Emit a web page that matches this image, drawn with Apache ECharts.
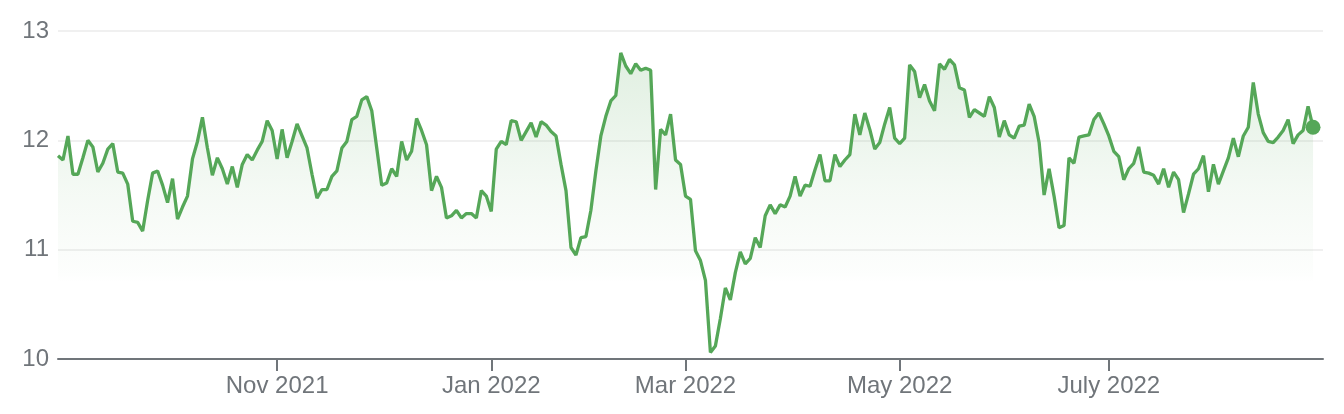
<!DOCTYPE html>
<html><head><meta charset="utf-8">
<script src="https://cdn.jsdelivr.net/npm/echarts@6/dist/echarts.min.js"></script>
<style>html,body{margin:0;padding:0;background:#fff}#c{width:1344px;height:414px}</style>
</head><body><div id="c"></div>
<script>
// Daily closing values, one per US trading day
const startDate = '2021-08-30';
const endDate = '2022-08-30';
const holidays = ['2021-09-06','2021-11-25','2021-12-24','2022-01-17','2022-02-21','2022-04-15','2022-05-30','2022-06-20','2022-07-04'];
const values = [
11.86,11.82,12.04,11.69,11.69,11.84,12.00,11.94,11.71,11.79,
11.92,11.97,11.71,11.70,11.60,11.26,11.25,11.17,11.45,11.70,
11.72,11.59,11.43,11.65,11.28,11.39,11.49,11.83,11.99,12.21,
11.93,11.68,11.84,11.74,11.60,11.76,11.57,11.78,11.87,11.82,
11.91,11.99,12.18,12.09,11.83,12.10,11.84,11.99,12.15,12.04,
11.93,11.69,11.47,11.55,11.55,11.67,11.72,11.93,11.99,12.19,
12.22,12.37,12.40,12.27,11.93,11.59,11.61,11.74,11.67,11.99,
11.82,11.90,12.20,12.09,11.96,11.54,11.67,11.57,11.29,11.31,
11.36,11.29,11.33,11.33,11.29,11.54,11.49,11.35,11.92,11.99,
11.96,12.18,12.17,12.00,12.08,12.16,12.03,12.17,12.14,12.08,
12.04,11.78,11.54,11.02,10.95,11.11,11.12,11.36,11.72,12.04,
12.22,12.36,12.41,12.80,12.68,12.61,12.70,12.64,12.66,12.64,
11.55,12.10,12.05,12.24,11.82,11.78,11.49,11.46,10.99,10.90,
10.72,10.06,10.12,10.37,10.65,10.54,10.79,10.98,10.87,10.92,
11.11,11.02,11.31,11.41,11.33,11.41,11.39,11.49,11.67,11.49,
11.59,11.58,11.73,11.87,11.63,11.63,11.87,11.76,11.82,11.87,
12.24,12.05,12.25,12.10,11.92,11.98,12.15,12.30,12.02,11.97,
12.02,12.69,12.63,12.39,12.51,12.36,12.27,12.70,12.65,12.74,
12.69,12.48,12.46,12.21,12.28,12.25,12.22,12.40,12.30,12.03,
12.18,12.05,12.02,12.13,12.14,12.33,12.22,11.98,11.50,11.74,
11.49,11.20,11.22,11.84,11.79,12.03,12.04,12.05,12.19,12.25,
12.15,12.04,11.90,11.85,11.64,11.74,11.79,11.94,11.71,11.70,
11.68,11.60,11.74,11.57,11.71,11.64,11.34,11.51,11.69,11.74,
11.86,11.53,11.78,11.60,11.72,11.84,12.02,11.85,12.04,12.12,
12.53,12.24,12.07,11.99,11.98,12.03,12.09,12.19,11.97,12.05,
12.09,12.31,12.12
];
const tickMonths = ['2021-11','2022-01','2022-03','2022-05','2022-07'];
const tickLabels = ['Nov 2021','Jan 2022','Mar 2022','May 2022','July 2022'];
const yMin = 10, yMax = 13, yStep = 1;

function tradingDays(){
  const out = [];
  const d = new Date(startDate + 'T00:00:00Z');
  const end = new Date(endDate + 'T00:00:00Z');
  while (d <= end) {
    const s = d.toISOString().slice(0,10);
    const wd = d.getUTCDay();
    if (wd !== 0 && wd !== 6 && holidays.indexOf(s) < 0) out.push(s);
    d.setUTCDate(d.getUTCDate() + 1);
  }
  return out;
}
const dates = tradingDays();
const labelAt = {};
tickMonths.forEach((m, k) => {
  const idx = dates.findIndex(d => d.startsWith(m));
  if (idx >= 0) labelAt[idx] = tickLabels[k];
});
const last = values.length - 1;
const green = '#55a758';
const grey = '#70757a';
const font = 'Liberation Sans, Arial, Helvetica, sans-serif';

const chart = echarts.init(document.getElementById('c'), null, {renderer: 'canvas'});
chart.setOption({
  animation: false,
  backgroundColor: '#fff',
  grid: {left: 58, right: 21, top: 31, bottom: 55, containLabel: false},
  xAxis: {
    type: 'category', data: dates, boundaryGap: false, max: dates.length + 1,
    axisLine: {lineStyle: {color: grey, width: 2}},
    axisTick: {show: true, interval: (i) => (i in labelAt), length: 12, lineStyle: {color: grey, width: 2}},
    axisLabel: {interval: (i) => (i in labelAt), formatter: (v, i) => labelAt[i] || '',
      color: grey, fontSize: 24, fontFamily: font, margin: 15},
    splitLine: {show: false}
  },
  yAxis: {
    type: 'value', min: yMin, max: yMax, interval: yStep,
    axisLine: {show: false}, axisTick: {show: false},
    axisLabel: {color: grey, fontSize: 24, fontFamily: font, margin: 9},
    splitLine: {lineStyle: {color: '#f0f0f0', width: 2}}
  },
  series: [
    {
      type: 'line', data: values, showSymbol: false, symbol: 'none',
      lineStyle: {color: green, width: 3.3},
      areaStyle: {origin: 'start', color: new echarts.graphic.LinearGradient(0, 0, 0, 1, [
        {offset: 0, color: 'rgba(85,167,88,0.26)'},
        {offset: 0.45, color: 'rgba(85,167,88,0.09)'},
        {offset: 0.72, color: 'rgba(85,167,88,0.02)'},
        {offset: 0.75, color: 'rgba(85,167,88,0)'},
        {offset: 1, color: 'rgba(85,167,88,0)'}
      ])}
    },
    {
      type: 'scatter', data: [[last, values[last]]], symbolSize: 15,
      itemStyle: {color: green, opacity: 1}, z: 5
    }
  ]
});
</script>
</body></html>
